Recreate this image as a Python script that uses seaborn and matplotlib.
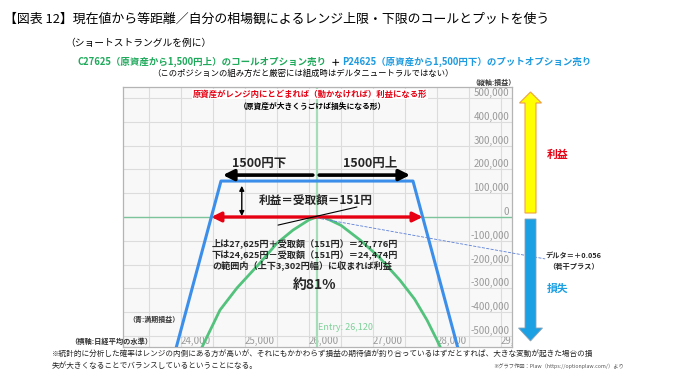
import seaborn as sns
import matplotlib.pyplot as plt
from matplotlib.patches import FancyArrow

# short strangle: sell C27625 + sell P24625, premium 151 yen (x1000)
put_strike, call_strike = 24625, 27625
entry = 26120
premium = 151000
breakeven = [24474, 27776]

# blue: P&L at expiry
expiry_x = [23900, 24625, 27625, 28350]
expiry_y = [-574000, 151000, 151000, -574000]

# green: P&L now
today_x = [24250, 24344, 24609, 24875, 25234, 25500, 25750, 26000, 26120,
           26250, 26500, 26800, 27100, 27420, 27650, 27844, 28000, 28100]
today_y = [-590000, -538000, -391000, -298000, -193000, -110000, -55000, -12000, 0,
           -3000, -35000, -97000, -170000, -265000, -345000, -433000, -517000, -575000]

x_ticks = [24000, 25000, 26000, 27000, 28000, 29000]
x_minor = [23500, 24500, 25500, 26500, 27500, 28500]
y_ticks = [-500000, -400000, -300000, -200000, -100000, 0,
           100000, 200000, 300000, 400000, 500000]

sns.set_theme(style="whitegrid")
plt.rcParams['font.family'] = ['Noto Sans CJK JP', 'DejaVu Sans']

W, H = 681, 384
fig = plt.figure(figsize=(W / 100, H / 100), dpi=100)
ax = fig.add_axes([123 / W, 1 - 347 / H, (512 - 123) / W, (347 - 87) / H])


def fx(px):
    return px / W


def fy(py):
    return 1 - py / H


def ftext(px, py, s, **kw):
    kw.setdefault('va', 'center')
    fig.text(fx(px), fy(py), s, **kw)


ax.set_facecolor('#f8f8f8')
ax.set_xlim(23094, 29172)
ax.set_ylim(-546000, 546000)
ax.set_xticks(x_ticks)
ax.set_xticks(x_minor, minor=True)
ax.set_xticklabels([f'{v:,}' for v in x_ticks])
ax.set_yticks(y_ticks)
ax.set_yticklabels([f'{v:,}' for v in y_ticks])
ax.grid(True, which='both', color='#dcdcdc', lw=0.8)
for s in ax.spines.values():
    s.set_color('#b4b4b4')
    s.set_linewidth(0.9)

ax.yaxis.set_ticks_position('right')
ax.tick_params(axis='y', pad=-2, length=0, labelsize=7, labelcolor='#9a9a9a')
for lbl in ax.get_yticklabels():
    lbl.set_ha('right')
    lbl.set_va('bottom')
ax.tick_params(axis='x', which='both', pad=-8, length=0, labelsize=7, labelcolor='#9a9a9a')
for lbl in ax.get_xticklabels():
    lbl.set_ha('left')
    lbl.set_clip_box(ax.bbox)
    lbl.set_clip_on(True)
ax.set_xlabel('')
ax.set_ylabel('')

ax.axhline(0, color='#7cc49b', lw=1, zorder=2)
ax.axvline(entry, color='#a6ddb9', lw=1.6, zorder=2)

sns.lineplot(x=today_x, y=today_y, ax=ax, color='#52c27c', lw=2, sort=False, zorder=4)
sns.lineplot(x=expiry_x, y=expiry_y, ax=ax, color='#3b8fea', lw=2.2, sort=False, zorder=5)

# break-even range
ax.annotate('', xy=(breakeven[0], 0), xytext=(breakeven[1], 0),
            arrowprops=dict(arrowstyle='<|-|>', color='#e60012', lw=2.4,
                            mutation_scale=14, shrinkA=0, shrinkB=0), zorder=6)
# 1500 yen each side
ax.annotate('', xy=(put_strike + 30, 176000), xytext=(26060, 176000),
            arrowprops=dict(arrowstyle='-|>', color='black', lw=2.6,
                            mutation_scale=16, shrinkA=0, shrinkB=0), zorder=6)
ax.annotate('', xy=(call_strike - 45, 176000), xytext=(26160, 176000),
            arrowprops=dict(arrowstyle='-|>', color='black', lw=2.6,
                            mutation_scale=16, shrinkA=0, shrinkB=0), zorder=6)
ax.annotate('', xy=(24950, premium - 20000), xytext=(24950, 4000),
            arrowprops=dict(arrowstyle='<|-|>', color='black', lw=1,
                            mutation_scale=7, shrinkA=0, shrinkB=0), zorder=6)
# delta tangent and pointer to label
ax.plot([25516, 26750], [-34000, 42000], color='black', lw=0.8, zorder=6)
ax.plot([entry, 29690], [-4000, -176000], color='#5b7fd8', lw=0.6, ls='--',
        clip_on=False, zorder=6)

# titles
ftext(4, 19, '【図表 12】現在値から等距離／自分の相場観によるレンジ上限・下限のコールとプットを使う',
      fontsize=9.3, color='black')
ftext(65, 43, '（ショートストラングルを例に）', fontsize=7, color='black')
ftext(77, 62, 'C27625（原資産から1,500円上）のコールオプション売り', fontsize=6.8,
      fontweight='bold', color='#1fa95b')
ftext(335, 62, '＋', fontsize=6.8, fontweight='bold', color='black', ha='center')
ftext(342, 62, 'P24625（原資産から1,500円下）のプットオプション売り', fontsize=6.8,
      fontweight='bold', color='#1e9be0')
ftext(303, 73, '（このポジションの組み方だと厳密には組成時はデルタニュートラルではない）',
      fontsize=6, color='black', ha='center')
ftext(494, 82, '（縦軸:損益）', fontsize=5, fontweight='bold', color='#333333', ha='center')

# texts inside the chart
ftext(310, 94, '原資産がレンジ内にとどまれば（動かなければ）利益になる形', fontsize=6,
      fontweight='bold', color='#e60012', ha='center',
      bbox=dict(facecolor='white', edgecolor='none', pad=0.5))
ftext(313, 106, '（原資産が大きくうごけば損失になる形）', fontsize=5.6,
      fontweight='bold', color='black', ha='center')
ftext(232, 163, '1500円下', fontsize=9, fontweight='bold')
ftext(343, 163, '1500円上', fontsize=9, fontweight='bold')
ftext(259, 200, '利益＝受取額＝151円', fontsize=8.4, fontweight='bold')
ftext(212, 243, '上は27,625円＋受取額（151円）＝27,776円', fontsize=6.6, fontweight='bold')
ftext(212, 254, '下は24,625円－受取額（151円）＝24,474円', fontsize=6.6, fontweight='bold')
ftext(212, 265, 'の範囲内（上下3,302円幅）に収まれば利益', fontsize=6.6, fontweight='bold')
ftext(293, 285, '約81%', fontsize=10, fontweight='bold')
ftext(318, 328, 'Entry: 26,120', fontsize=6.5, color='#7fd19a')
ftext(128, 319, '（青:満期損益）', fontsize=5, fontweight='bold', color='#333333')
ftext(70, 341, '（横軸:日経平均の水準）', fontsize=5.2, fontweight='bold', color='#333333')

# profit / loss arrows on the right
fig.add_artist(FancyArrow(fx(530.5), fy(213), 0, fy(92) - fy(213), width=11 / W,
                          head_width=22 / W, head_length=11 / H,
                          length_includes_head=True, transform=fig.transFigure,
                          facecolor='#ffff00', edgecolor='#f0a040', lw=0.8))
fig.add_artist(FancyArrow(fx(530.5), fy(219), 0, fy(341) - fy(219), width=11 / W,
                          head_width=24 / W, head_length=13 / H,
                          length_includes_head=True, transform=fig.transFigure,
                          facecolor='#1ca0e4', edgecolor='#8aa0b4', lw=0.6))
ftext(547, 155, '利益', fontsize=7.8, fontweight='bold', color='#e60012')
ftext(547, 289, '損失', fontsize=7.8, fontweight='bold', color='#1ca0e4')
ftext(545, 256, 'デルタ＝＋0.056', fontsize=5.2, fontweight='bold')
ftext(574, 266, '（若干プラス）', fontsize=5.2, fontweight='bold', ha='center')

# footnotes
ftext(52, 355, '※統計的に分析した確率はレンジの内側にある方が高いが、それにもかかわらず損益の期待値が'
      '釣り合っているはずだとすれば、大きな変動が起きた場合の損', fontsize=5.5, color='#222222')
ftext(52, 366, '失が大きくなることでバランスしているということになる。', fontsize=5.5,
      color='#222222')
ftext(493, 366, '※グラフ作図：Plaw（https://optionplaw.com/）より', fontsize=3.8,
      color='#555555')

fig.savefig('out.png', dpi=100)
